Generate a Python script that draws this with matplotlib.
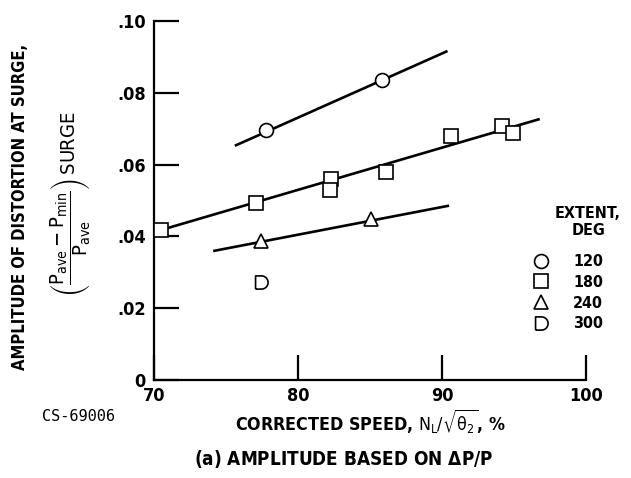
import numpy as np
import matplotlib
matplotlib.use("Agg")
import matplotlib.pyplot as plt
from matplotlib.path import Path

plt.rcParams['font.family'] = ['DejaVu Sans']
plt.rcParams['font.stretch'] = 'condensed'
plt.rcParams['mathtext.fontset'] = 'dejavusans'

# extent 120 deg
circ_x = [77.8, 85.8]
circ_y = [0.0696, 0.0836]
circ_fit_x = [75.7, 90.3]
circ_fit_y = [0.0654, 0.0915]

# extent 180 deg
sq_x = [70.5, 77.1, 82.3, 82.2, 86.1, 90.6, 94.2, 94.9]
sq_y = [0.0418, 0.0492, 0.0560, 0.0529, 0.0579, 0.0680, 0.0708, 0.0687]
sq_fit_x = [70.5, 96.7]
sq_fit_y = [0.0418, 0.0726]

# extent 240 deg
tri_x = [77.4, 85.1]
tri_y = [0.0388, 0.0448]
tri_fit_x = [74.2, 90.4]
tri_fit_y = [0.0360, 0.0485]

# extent 300 deg
d_x = [77.4]
d_y = [0.0274]

x_ticks = [70, 80, 90, 100]
y_ticks = [0, 0.02, 0.04, 0.06, 0.08, 0.10]
y_tick_labels = ['0', '.02', '.04', '.06', '.08', '.10']
extents = ['120', '180', '240', '300']

# D-shaped marker: flat left side, round right side
t = np.linspace(np.pi / 2, -np.pi / 2, 20)
d_verts = [(-0.9, -1.0), (-0.9, 1.0), (0.0, 1.0)] + list(zip(np.cos(t), np.sin(t))) + [(-0.9, -1.0)]
d_marker = Path(d_verts)

fig = plt.figure(figsize=(6.31, 4.78), dpi=100)
ax = fig.add_axes([0.244, 0.205, 0.6847, 0.751])

lw = 1.9
mk = dict(linestyle='none', markerfacecolor='white', markeredgecolor='black',
          markeredgewidth=1.2, zorder=3)

ax.plot(circ_fit_x, circ_fit_y, color='black', lw=lw)
ax.plot(sq_fit_x, sq_fit_y, color='black', lw=lw)
ax.plot(tri_fit_x, tri_fit_y, color='black', lw=lw)

h1, = ax.plot(circ_x, circ_y, marker='o', markersize=10, label=extents[0], **mk)
h2, = ax.plot(sq_x, sq_y, marker='s', markersize=9.5, label=extents[1], **mk)
h3, = ax.plot(tri_x, tri_y, marker='^', markersize=9.5, label=extents[2], **mk)
h4, = ax.plot(d_x, d_y, marker=d_marker, markersize=9.5, label=extents[3], **mk)

ax.set_xlim(70, 100)
ax.set_ylim(0, 0.10)
ax.set_xticks(x_ticks)
ax.set_xticklabels([str(v) for v in x_ticks])
ax.set_yticks(y_ticks)
ax.set_yticklabels(y_tick_labels)
for s in ['top', 'right']:
    ax.spines[s].set_visible(False)
for s in ['left', 'bottom']:
    ax.spines[s].set_linewidth(1.6)
ax.tick_params(direction='in', length=18, width=1.6, labelsize=13)
ax.tick_params(axis='x', pad=5)
ax.tick_params(axis='y', pad=6)
for lab in ax.get_xticklabels() + ax.get_yticklabels():
    lab.set_fontweight('bold')

leg = ax.legend(handles=[h1, h2, h3, h4], loc='upper left', bbox_to_anchor=(0.878, 0.35),
                frameon=False, fontsize=11.5, handlelength=1.0, handletextpad=1.5,
                labelspacing=0.35, borderpad=0, borderaxespad=0)
for txt in leg.get_texts():
    txt.set_fontweight('bold')
fig.text(0.932, 0.535, 'EXTENT,\nDEG', ha='center', va='center', fontsize=11.5,
         fontweight='bold', linespacing=1.2)

ax.set_xlabel(r'CORRECTED SPEED, $\mathrm{N_L/\sqrt{\theta_2}}$, %', fontsize=12.8,
              fontweight='bold', labelpad=2)
fig.text(0.545, 0.040, r'(a) AMPLITUDE BASED ON $\mathbf{\Delta}$P/P', ha='center', va='center',
         fontsize=13.6, fontweight='bold')
fig.text(0.124, 0.128, 'CS-69006', ha='center', va='center', fontsize=11,
         family=['DejaVu Sans Mono'], stretch='normal')

fig.text(0.032, 0.568, 'AMPLITUDE OF DISTORTION AT SURGE,', rotation=90, ha='center',
         va='center', fontsize=11.9, fontweight='bold')
fig.text(0.112, 0.574,
         r'$\left(\dfrac{\mathrm{P_{ave}-P_{min}}}{\mathrm{P_{ave}}}\right)\,\mathrm{SURGE}$',
         rotation=90, ha='center', va='center', fontsize=14.5)

fig.savefig('out.png', dpi=100)
